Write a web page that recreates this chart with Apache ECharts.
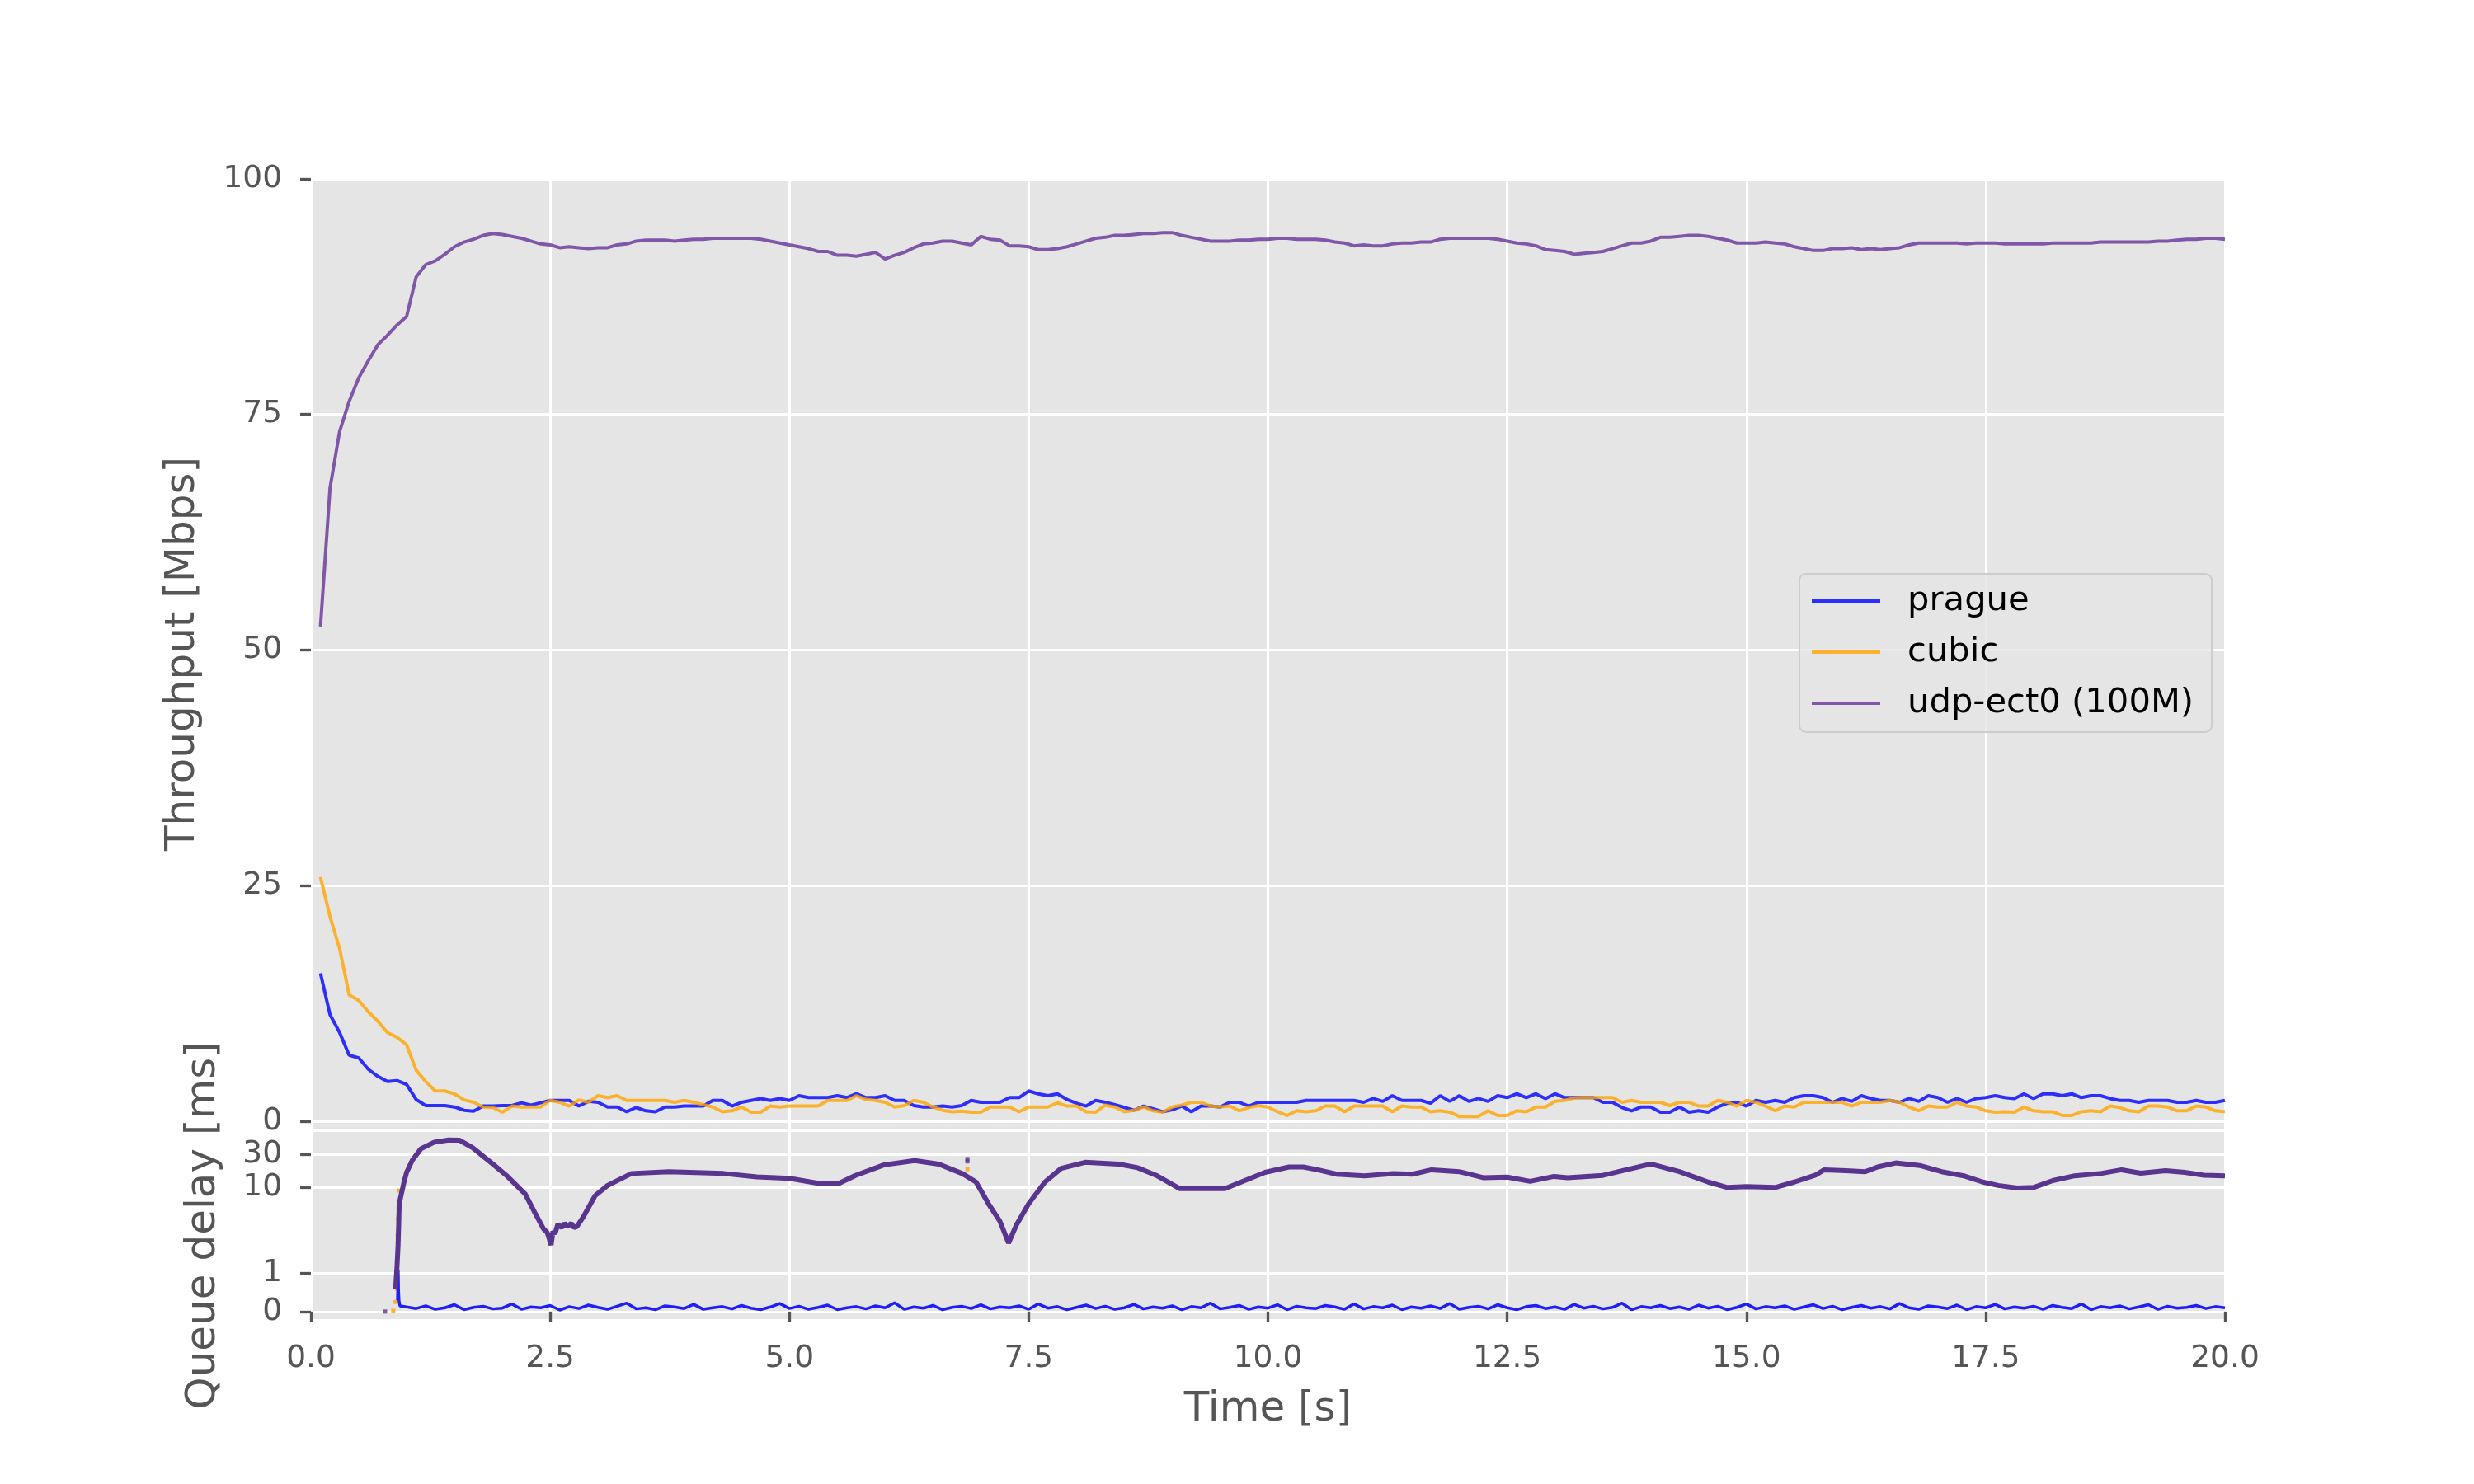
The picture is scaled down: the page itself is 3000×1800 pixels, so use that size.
<!DOCTYPE html>
<html><head><meta charset="utf-8">
<script src="https://cdn.jsdelivr.net/npm/echarts@6/dist/echarts.min.js"></script>
<style>html,body{margin:0;padding:0;background:#fff}#c{width:3000px;height:1800px}</style>
</head><body><div id="c"></div>
<script>
// ---------- DATA ----------
// Throughput samples every 0.1 s starting at 0.1 s (Mbps)
const tputStart = 0.1, tputStep = 0.1;
const praguePut = [15.7,11.3,9.4,7.0,6.7,5.5,4.75,4.2,4.3,3.9,
2.3,1.65,1.65,1.65,1.5,1.15,1.05,1.6,1.6,1.65,
1.65,1.95,1.7,1.95,2.2,2.2,2.2,1.6,2.1,2.0,
1.5,1.5,1.0,1.45,1.1,1.0,1.5,1.5,1.6,1.6,
1.6,2.2,2.2,1.6,2.0,2.2,2.4,2.2,2.4,2.2,
2.7,2.5,2.5,2.5,2.7,2.5,2.9,2.5,2.5,2.7,
2.2,2.2,1.65,1.5,1.5,1.6,1.5,1.65,2.2,2.0,
2.0,2.0,2.5,2.5,3.2,2.9,2.7,2.9,2.3,1.9,
1.6,2.2,2.0,1.75,1.45,1.15,1.6,1.3,1.0,1.2,
1.6,1.0,1.6,1.6,1.5,2.0,2.0,1.6,2.0,2.0,
2.0,2.0,2.0,2.2,2.2,2.2,2.2,2.2,2.2,2.0,
2.4,2.1,2.7,2.2,2.2,2.2,1.9,2.7,2.1,2.7,
2.1,2.4,2.1,2.7,2.5,2.9,2.5,2.9,2.4,2.9,
2.5,2.5,2.5,2.5,2.0,2.0,1.45,1.1,1.5,1.5,
0.95,0.95,1.5,0.95,1.1,0.95,1.5,1.9,2.0,1.6,
2.2,2.0,2.2,2.0,2.5,2.7,2.7,2.5,2.0,2.4,
2.1,2.7,2.4,2.2,2.2,2.0,2.4,2.1,2.7,2.5,
2.0,2.4,2.0,2.4,2.5,2.7,2.5,2.4,2.9,2.4,
2.9,2.9,2.7,2.9,2.5,2.7,2.7,2.4,2.2,2.2,
2.0,2.2,2.2,2.2,2.0,2.0,2.2,2.0,2.0,2.2];
const cubicPut = [25.9,21.7,18.3,13.4,12.8,11.6,10.6,9.4,8.9,8.1,
5.4,4.2,3.2,3.2,2.9,2.25,2.0,1.5,1.45,0.95,
1.6,1.5,1.5,1.5,2.2,2.0,1.6,2.25,2.0,2.7,
2.5,2.7,2.2,2.2,2.2,2.2,2.2,2.0,2.2,2.0,
1.75,1.5,1.0,1.1,1.5,0.95,0.95,1.6,1.5,1.6,
1.6,1.6,1.6,2.2,2.2,2.2,2.7,2.3,2.2,2.0,
1.5,1.65,2.2,2.0,1.5,1.15,1.0,1.05,0.95,0.95,
1.5,1.5,1.5,1.0,1.5,1.5,1.5,1.95,1.6,1.6,
1.0,0.95,1.7,1.5,1.0,1.15,1.5,1.1,0.95,1.5,
1.7,2.0,2.0,1.6,1.5,1.6,1.1,1.45,1.65,1.5,
1.0,0.6,1.1,1.0,1.1,1.6,1.6,1.0,1.6,1.6,
1.6,1.6,1.0,1.6,1.5,1.5,1.0,1.1,0.95,0.5,
0.5,0.5,1.1,0.6,0.6,1.1,1.0,1.5,1.5,2.1,
2.2,2.45,2.5,2.5,2.5,2.5,2.0,2.2,2.0,2.0,
2.0,1.65,2.0,2.0,1.6,1.6,2.2,2.0,1.6,2.2,
2.0,1.6,1.1,1.6,1.5,2.0,2.0,2.0,2.0,2.0,
1.6,2.0,2.0,2.0,2.2,2.0,1.5,1.1,1.6,1.5,
1.5,2.0,1.6,1.5,1.1,0.95,1.0,0.95,1.5,1.1,
1.0,1.0,0.6,0.6,1.0,1.1,1.0,1.6,1.45,1.1,
1.0,1.6,1.6,1.5,1.1,1.1,1.6,1.5,1.1,1.0];
const udpPut = [52.5,67.2,73.2,76.4,78.9,80.7,82.4,83.4,84.5,85.4,
89.6,90.9,91.3,92.0,92.8,93.3,93.6,94.0,94.2,94.1,
93.9,93.7,93.4,93.1,93.0,92.7,92.8,92.7,92.6,92.7,
92.7,93.0,93.1,93.4,93.5,93.5,93.5,93.4,93.5,93.6,
93.6,93.7,93.7,93.7,93.7,93.7,93.6,93.4,93.2,93.0,
92.8,92.6,92.3,92.3,91.9,91.9,91.8,92.0,92.2,91.5,
91.9,92.2,92.7,93.1,93.2,93.4,93.4,93.2,93.0,93.9,
93.6,93.5,92.9,92.9,92.8,92.5,92.5,92.6,92.8,93.1,
93.4,93.7,93.8,94.0,94.0,94.1,94.2,94.2,94.3,94.3,
94.0,93.8,93.6,93.4,93.4,93.4,93.5,93.5,93.6,93.6,
93.7,93.7,93.6,93.6,93.6,93.5,93.3,93.2,92.9,93.0,
92.9,92.9,93.1,93.2,93.2,93.3,93.3,93.6,93.7,93.7,
93.7,93.7,93.7,93.6,93.4,93.2,93.1,92.9,92.5,92.4,
92.3,92.0,92.1,92.2,92.3,92.6,92.9,93.2,93.2,93.4,
93.8,93.8,93.9,94.0,94.0,93.9,93.7,93.5,93.2,93.2,
93.2,93.3,93.2,93.1,92.8,92.6,92.4,92.4,92.6,92.6,
92.7,92.5,92.6,92.5,92.6,92.7,93.0,93.2,93.2,93.2,
93.2,93.2,93.1,93.2,93.2,93.2,93.1,93.1,93.1,93.1,
93.1,93.2,93.2,93.2,93.2,93.2,93.3,93.3,93.3,93.3,
93.3,93.3,93.4,93.4,93.5,93.6,93.6,93.7,93.7,93.6];

// Queue delay (ms) of the udp-ect0 flow: sample times (s) and values
const udpDelayT = [0.885,0.9,0.911,0.917,0.923,0.945,0.974,1.0,1.06,1.15,1.29,1.44,1.55,1.69,1.89,2.04,2.24,2.34,2.43,2.47,2.51,2.53,2.55,2.58,2.62,2.65,2.68,2.72,2.75,2.78,2.85,2.97,3.10,3.35,3.74,4.31,4.66,5.0,5.3,5.52,5.69,5.99,6.31,6.56,6.81,6.95,7.08,7.2,7.29,7.37,7.5,7.67,7.84,8.09,8.44,8.64,8.83,9.08,9.33,9.55,9.72,9.97,10.22,10.37,10.52,10.72,11.01,11.31,11.51,11.71,12.0,12.25,12.5,12.74,12.99,13.13,13.5,14.0,14.3,14.6,14.8,15.0,15.3,15.5,15.72,15.81,16.04,16.24,16.37,16.56,16.81,17.04,17.27,17.47,17.63,17.83,18.0,18.2,18.43,18.69,18.92,19.12,19.38,19.58,19.78,20.0];
const udpDelay = [0.6,1.2,1.75,2.8,5.8,8.0,12.2,16.6,25,36.7,45.8,49.2,49,38,22.6,15.1,8.0,4.3,2.5,2.2,1.75,2.3,2.1,2.9,2.6,3.0,2.7,3.0,2.6,2.7,3.8,7.6,10.7,16.0,17,16,14.3,13.6,11.5,11.5,15,21.4,24.7,21.9,15.9,12,5.8,3.2,1.8,2.8,5.8,12,19,23.3,21.9,19.4,15.1,9.6,9.6,9.6,12,16.6,19.9,19.9,18.1,15.6,14.8,15.9,15.6,18.1,17,13.9,14.2,12.3,14.5,13.9,15,22,17,12,10,10.3,10,12,15.1,18.1,17.6,17,19.9,22.8,20.9,17,14.8,12,10.7,9.8,10,12.6,14.8,15.9,18.1,16.2,17.6,16.6,15.1,14.8];
// stray udp-ect0 delay samples
const udpStrayT = [0.775,6.86,6.86];
const udpStray = [0,26,24];
// cubic delay samples visible beside the udp trace
const cubicDelayT = [0.86,0.885,0.9,0.905,0.91,0.915,0.925,6.86];
const cubicDelay = [0.02,0.25,0.6,2.0,3.5,5.0,9.0,18.5];
// prague delay: first samples, then every 0.1 s from 1.0 s
const pragueDelayEarlyT = [0.905,0.912,0.915,0.92,0.93];
const pragueDelayEarly = [0.3,1.1,0.6,0.3,0.15];
const pragueDelayStart = 1.0, pragueDelayStep = 0.1;
const pragueDelay = [0.12,0.08,0.15,0.06,0.1,0.18,0.05,0.11,0.14,0.07,
0.09,0.2,0.06,0.12,0.1,0.16,0.04,0.13,0.08,0.17,
0.11,0.06,0.14,0.22,0.07,0.1,0.05,0.15,0.12,0.08,
0.19,0.06,0.1,0.13,0.07,0.16,0.09,0.05,0.12,0.21,
0.08,0.14,0.06,0.11,0.17,0.05,0.1,0.13,0.07,0.15,
0.1,0.23,0.06,0.12,0.09,0.16,0.05,0.11,0.14,0.08,
0.18,0.07,0.12,0.1,0.15,0.06,0.2,0.09,0.13,0.05,
0.11,0.17,0.08,0.14,0.06,0.1,0.19,0.07,0.12,0.09,
0.15,0.05,0.13,0.1,0.22,0.07,0.11,0.16,0.06,0.12,
0.09,0.18,0.05,0.14,0.1,0.08,0.16,0.12,0.06,0.2,
0.07,0.13,0.1,0.17,0.05,0.12,0.09,0.15,0.08,0.21,
0.06,0.11,0.14,0.07,0.18,0.1,0.05,0.13,0.16,0.08,
0.12,0.06,0.19,0.09,0.14,0.07,0.11,0.22,0.05,0.13,
0.1,0.16,0.08,0.12,0.06,0.17,0.09,0.14,0.05,0.11,
0.2,0.07,0.13,0.1,0.15,0.06,0.12,0.18,0.08,0.14,
0.05,0.11,0.16,0.09,0.13,0.07,0.21,0.1,0.06,0.15,
0.12,0.08,0.17,0.05,0.13,0.1,0.19,0.07,0.12,0.09,
0.14,0.06,0.16,0.11,0.08,0.2,0.05,0.13,0.1,0.15,
0.07,0.12,0.18,0.06,0.14,0.09,0.11,0.16,0.08,0.13,0.1];

const xTicks = [0, 2.5, 5, 7.5, 10, 12.5, 15, 17.5, 20];
const tputTicks = [0, 25, 50, 75, 100];
const delayTicks = [0, 1, 10, 30];
const seriesNames = ['prague', 'cubic', 'udp-ect0 (100M)'];

// ---------- helpers ----------
// symmetric-log transform (linthresh 2, linscale 1, base 10)
const LT = 2, LS = 1 / (1 - 1 / 10);
function symlog(v) { return v <= LT ? v * LS : LT * (LS + Math.log10(v / LT)); }
function pairs(ts, vs, tf) { return vs.map((v, i) => [ts[i], tf ? tf(v) : v]); }
function seq(start, step, n) { const a = []; for (let i = 0; i < n; i++) a.push(+(start + i * step).toFixed(3)); return a; }

const tputT = seq(tputStart, tputStep, udpPut.length);
const pragueDT = seq(pragueDelayStart, pragueDelayStep, pragueDelay.length);

const FONT = 'DejaVu Sans';
const GREY = '#555555';
const C_PRAGUE = 'rgba(0,0,255,0.8)';
const C_CUBIC = 'rgba(255,165,0,0.8)';
const C_UDP = 'rgba(102,51,153,0.8)';

const gridLine = { show: true, lineStyle: { color: '#ffffff', width: 3 } };

const chart = echarts.init(document.getElementById('c'), null, { renderer: 'canvas' });
const delayTickPos = delayTicks.map(symlog);

const option = {
  animation: false,
  backgroundColor: '#ffffff',
  grid: [
    { left: 377, right: 302, top: 217, height: 1152, show: true, backgroundColor: '#E5E5E5', borderWidth: 0 },
    { left: 377, right: 302, top: 1373, height: 227, show: true, backgroundColor: '#E5E5E5', borderWidth: 0 }
  ],
  xAxis: [
    { type: 'value', gridIndex: 0, min: 0, max: 20, interval: 2.5,
      axisLine: { show: false }, axisTick: { show: false }, axisLabel: { show: false }, splitLine: gridLine },
    { type: 'value', gridIndex: 1, min: 0, max: 20, interval: 2.5, offset: 4,
      name: 'Time [s]', nameLocation: 'middle', nameGap: 81,
      nameTextStyle: { fontFamily: FONT, fontSize: 50, color: GREY },
      axisLine: { show: false },
      axisTick: { show: true, length: 13, lineStyle: { color: GREY, width: 3.3 } },
      axisLabel: { show: true, margin: 25, fontFamily: FONT, fontSize: 37.5, color: GREY,
        formatter: v => v.toFixed(1) },
      splitLine: gridLine }
  ],
  yAxis: [
    { type: 'value', gridIndex: 0, min: -0.8, max: 100, offset: 4,
      name: 'Throughput [Mbps]', nameLocation: 'middle', nameGap: 126,
      nameTextStyle: { fontFamily: FONT, fontSize: 50, color: GREY },
      axisLine: { show: false },
      axisTick: { show: true, length: 13, lineStyle: { color: GREY, width: 3.3 }, customValues: tputTicks },
      axisLabel: { show: true, margin: 31, fontFamily: FONT, fontSize: 37.5, color: GREY, customValues: tputTicks,
        formatter: v => String(Math.round(v)) },
      splitLine: gridLine },
    { type: 'value', gridIndex: 1, min: -0.22, max: 5.24, offset: 4,
      name: 'Queue delay [ms]', nameLocation: 'middle', nameGap: 101,
      nameTextStyle: { fontFamily: FONT, fontSize: 50, color: GREY },
      axisLine: { show: false },
      axisTick: { show: true, length: 13, lineStyle: { color: GREY, width: 3.3 }, customValues: delayTickPos },
      axisLabel: { show: true, margin: 31, fontFamily: FONT, fontSize: 37.5, color: GREY, customValues: delayTickPos,
        formatter: v => { let best = 0; delayTickPos.forEach((p, i) => { if (Math.abs(p - v) < Math.abs(delayTickPos[best] - v)) best = i; }); return String(delayTicks[best]); } },
      splitLine: gridLine }
  ],
  legend: {
    data: seriesNames, orient: 'vertical', left: 2182, top: 696,
    backgroundColor: 'rgba(229,229,229,0.8)', borderColor: '#cccccc', borderWidth: 2, borderRadius: 8,
    padding: [8, 22, 10, 15], itemGap: 12, itemWidth: 83, itemHeight: 4, icon: 'rect',
    textStyle: { fontFamily: FONT, fontSize: 41.7, color: '#000000', lineHeight: 50, padding: [0, 0, 0, 28] }
  },
  series: [
    { name: seriesNames[0], type: 'line', xAxisIndex: 0, yAxisIndex: 0, data: pairs(tputT, praguePut),
      showSymbol: false, symbol: 'none', lineStyle: { color: C_PRAGUE, width: 4 }, itemStyle: { color: C_PRAGUE } },
    { name: seriesNames[1], type: 'line', xAxisIndex: 0, yAxisIndex: 0, data: pairs(tputT, cubicPut),
      showSymbol: false, symbol: 'none', lineStyle: { color: C_CUBIC, width: 4 }, itemStyle: { color: C_CUBIC } },
    { name: seriesNames[2], type: 'line', xAxisIndex: 0, yAxisIndex: 0, data: pairs(tputT, udpPut),
      showSymbol: false, symbol: 'none', lineStyle: { color: C_UDP, width: 4 }, itemStyle: { color: C_UDP } },

    { name: 'prague delay', type: 'line', xAxisIndex: 1, yAxisIndex: 1,
      data: pairs(pragueDelayEarlyT, pragueDelayEarly, symlog).concat(pairs(pragueDT, pragueDelay, symlog)),
      showSymbol: false, symbol: 'none', lineStyle: { color: '#1e1ef5', width: 3.5 } },
    { name: 'cubic delay', type: 'scatter', xAxisIndex: 1, yAxisIndex: 1,
      data: pairs(cubicDelayT, cubicDelay, symlog), symbol: 'rect', symbolSize: 5, itemStyle: { color: '#FFA500' } },
    { name: 'udp delay', type: 'line', xAxisIndex: 1, yAxisIndex: 1,
      data: pairs(udpDelayT, udpDelay, symlog),
      showSymbol: false, symbol: 'none', lineStyle: { color: '#5a3590', width: 6 } },
    { name: 'udp delay stray', type: 'scatter', xAxisIndex: 1, yAxisIndex: 1,
      data: pairs(udpStrayT, udpStray, symlog), symbol: 'rect', symbolSize: 5, itemStyle: { color: '#5a3590' } }
  ]
};
chart.setOption(option);
</script>
</body></html>
